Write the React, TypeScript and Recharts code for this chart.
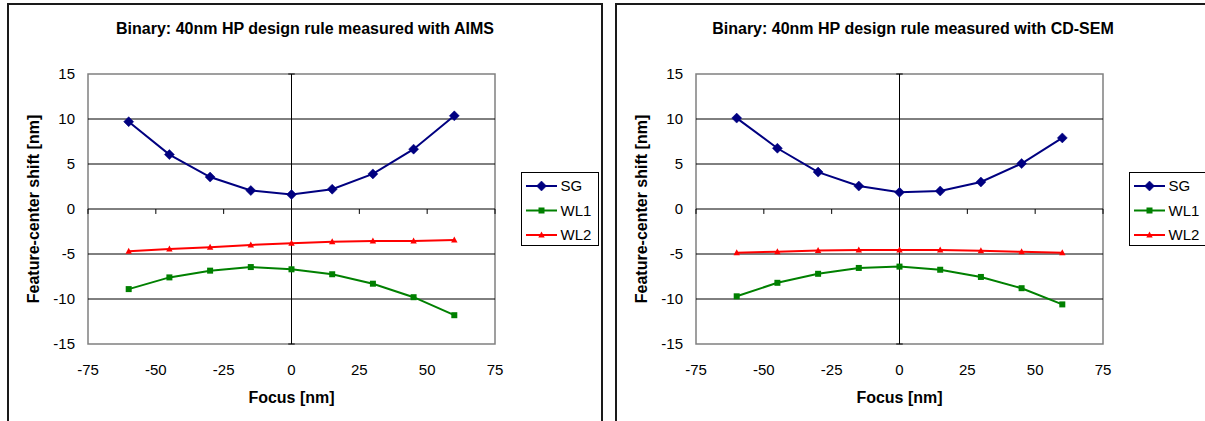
import React from "react";
import {
  LineChart,
  Line,
  XAxis,
  YAxis,
  ReferenceLine,
  ReferenceArea,
  Legend,
} from "recharts";

// ---------- data ----------
const focus = [-60, -45, -30, -15, 0, 15, 30, 45, 60];

const aimsSG = [9.7, 6.05, 3.55, 2.05, 1.6, 2.2, 3.9, 6.65, 10.35];
const aimsWL1 = [-8.9, -7.6, -6.85, -6.45, -6.7, -7.25, -8.3, -9.8, -11.8];
const aimsWL2 = [-4.7, -4.45, -4.25, -4.0, -3.8, -3.65, -3.55, -3.55, -3.45];

const semSG = [10.1, 6.75, 4.1, 2.55, 1.85, 2.0, 3.0, 5.05, 7.9];
const semWL1 = [-9.7, -8.2, -7.2, -6.55, -6.4, -6.75, -7.55, -8.8, -10.6];
const semWL2 = [-4.85, -4.75, -4.6, -4.55, -4.55, -4.55, -4.65, -4.75, -4.85];

const xTicks = [-75, -50, -25, 0, 25, 50, 75];
const yTicks = [-15, -10, -5, 0, 5, 10, 15];
const gridValues = [-10, -5, 5, 10];
const xTickMarks = [-75, -50, -25, 25, 50, 75];

const titleAims = "Binary: 40nm HP design rule measured with AIMS";
const titleSem = "Binary: 40nm HP design rule measured with CD-SEM";
const xLabel = "Focus [nm]";
const yLabel = "Feature-center shift [nm]";

const seriesNames = ["SG", "WL1", "WL2"];
const seriesColors: Record<string, string> = {
  SG: "#000080",
  WL1: "#008000",
  WL2: "#FF0000",
};
const seriesShapes: Record<string, string> = {
  SG: "diamond",
  WL1: "square",
  WL2: "triangle",
};

const buildRows = (sg: number[], wl1: number[], wl2: number[]) =>
  focus.map((f, i) => ({ focus: f, SG: sg[i], WL1: wl1[i], WL2: wl2[i] }));

const aimsRows = buildRows(aimsSG, aimsWL1, aimsWL2);
const semRows = buildRows(semSG, semWL1, semWL2);

const FONT = "'Liberation Sans', Arial, sans-serif";

// ---------- markers ----------
function Marker({ shape, cx, cy, color }: { shape: string; cx: number; cy: number; color: string }) {
  if (shape === "diamond") {
    return (
      <path
        d={`M${cx},${cy - 5} L${cx + 5},${cy} L${cx},${cy + 5} L${cx - 5},${cy} Z`}
        fill={color}
        stroke={color}
        strokeWidth={0.5}
      />
    );
  }
  if (shape === "square") {
    return <rect x={cx - 3} y={cy - 3} width={6} height={6} fill={color} />;
  }
  return (
    <path
      d={`M${cx},${cy - 3.5} L${cx + 3.2},${cy + 2.5} L${cx - 3.2},${cy + 2.5} Z`}
      fill={color}
    />
  );
}

const makeDot = (name: string) => (props: any) => {
  const { cx, cy, index } = props;
  if (cx == null || cy == null) return <g key={`e-${name}-${index}`} />;
  return (
    <g key={`d-${name}-${index}`}>
      <Marker shape={seriesShapes[name]} cx={cx} cy={cy} color={seriesColors[name]} />
    </g>
  );
};

// ---------- legend ----------
const LegendBox = (props: any) => {
  const payload = (props.payload || []) as any[];
  const rowGap = 24.5;
  return (
    <svg width={78} height={74} style={{ display: "block" }}>
      <rect x={0.5} y={0.5} width={77} height={73} fill="#fff" stroke="#000" strokeWidth={1} />
      {payload.map((p: any, i: number) => {
        const name = String(p.value);
        const color = seriesColors[name] || p.color;
        const y = 14 + i * rowGap;
        return (
          <g key={name}>
            <line x1={5} y1={y} x2={36} y2={y} stroke={color} strokeWidth={2} />
            <Marker shape={seriesShapes[name]} cx={20.5} cy={y} color={color} />
            <text
              x={39.5}
              y={y}
              dy="0.36em"
              fontSize={15}
              fontFamily={FONT}
              fill="#000"
            >
              {name}
            </text>
          </g>
        );
      })}
    </svg>
  );
};

// ---------- panel ----------
const PANEL_W = 596;
const PANEL_H = 421;

function Panel({ left, title, data }: { left: number; title: string; data: any[] }) {
  return (
    <div style={{ position: "absolute", left, top: 0, width: PANEL_W, height: PANEL_H }}>
      <div
        style={{
          position: "absolute",
          left: 0,
          top: 3,
          width: PANEL_W,
          height: 460,
          boxSizing: "border-box",
          border: "2px solid #1a1a1a",
          background: "#fff",
        }}
      />
      <div
        style={{
          position: "absolute",
          left: 0,
          top: 20,
          width: PANEL_W,
          textAlign: "center",
          fontFamily: FONT,
          fontWeight: "bold",
          fontSize: 16,
          lineHeight: "18px",
          color: "#000",
        }}
      >
        {title}
      </div>
      <div style={{ position: "absolute", left: 0, top: 0 }}>
        <LineChart
          width={PANEL_W}
          height={PANEL_H}
          data={data}
          margin={{ top: 74, right: 108, bottom: 47, left: 21 }}
        >
          <XAxis
            dataKey="focus"
            type="number"
            domain={[-75, 75]}
            ticks={xTicks}
            allowDataOverflow
            axisLine={false}
            tickLine={false}
            tickSize={6}
            tickMargin={14}
            height={30}
            tick={{ fill: "#000", fontSize: 15, fontFamily: FONT }}
            label={{
              content: (p: any) => {
                const vb = p.viewBox || {};
                return (
                  <text
                    x={vb.x + vb.width / 2}
                    y={397}
                    dy="0.36em"
                    textAnchor="middle"
                    fontFamily={FONT}
                    fontWeight="bold"
                    fontSize={16}
                    fill="#000"
                  >
                    {xLabel}
                  </text>
                );
              },
            }}
          />
          <YAxis
            type="number"
            domain={[-15, 15]}
            ticks={yTicks}
            allowDataOverflow
            axisLine={false}
            tickLine={false}
            tickSize={6}
            tickMargin={7}
            width={60}
            tick={{ fill: "#000", fontSize: 15, fontFamily: FONT }}
            label={{
              content: (p: any) => {
                const vb = p.viewBox || {};
                const cx = vb.x + 5;
                const cy = vb.y + vb.height / 2;
                return (
                  <text
                    x={cx}
                    y={cy}
                    dy="0.36em"
                    textAnchor="middle"
                    transform={`rotate(-90 ${cx} ${cy})`}
                    fontFamily={FONT}
                    fontWeight="bold"
                    fontSize={16}
                    fill="#000"
                  >
                    {yLabel}
                  </text>
                );
              },
            }}
          />
          <ReferenceArea
            x1={-75}
            x2={75}
            y1={-15}
            y2={15}
            fill="#fff"
            fillOpacity={0}
            stroke="#808080"
            strokeWidth={1.5}
          />
          {gridValues.map((v) => (
            <ReferenceLine key={`g${v}`} y={v} stroke="#000" strokeWidth={1} />
          ))}
          <ReferenceLine y={0} stroke="#000" strokeWidth={1} />
          <ReferenceLine x={0} stroke="#000" strokeWidth={1} />
          {xTickMarks.map((v) => (
            <ReferenceLine
              key={`xt${v}`}
              segment={[
                { x: v, y: 0 },
                { x: v, y: -0.55 },
              ]}
              stroke="#000"
              strokeWidth={1}
            />
          ))}
          {[-15, 15].map((v) => (
            <ReferenceLine
              key={`yt${v}`}
              segment={[
                { x: -1.2, y: v },
                { x: 1.2, y: v },
              ]}
              stroke="#000"
              strokeWidth={1}
            />
          ))}
          <Legend
            layout="vertical"
            align="center"
            verticalAlign="middle"
            content={LegendBox}
            wrapperStyle={{ left: 514, top: 172, width: 78, height: 74 }}
          />
          {seriesNames.map((name) => (
            <Line
              key={name}
              type="linear"
              dataKey={name}
              name={name}
              stroke={seriesColors[name]}
              strokeWidth={2}
              dot={makeDot(name)}
              activeDot={false}
              isAnimationActive={false}
              legendType="line"
            />
          ))}
        </LineChart>
      </div>
    </div>
  );
}

export default function App() {
  return (
    <div
      style={{
        position: "absolute",
        left: 0,
        top: 0,
        width: 1205,
        height: 421,
        overflow: "hidden",
        background: "#fff",
      }}
    >
      <Panel left={7} title={titleAims} data={aimsRows} />
      <Panel left={615} title={titleSem} data={semRows} />
    </div>
  );
}
